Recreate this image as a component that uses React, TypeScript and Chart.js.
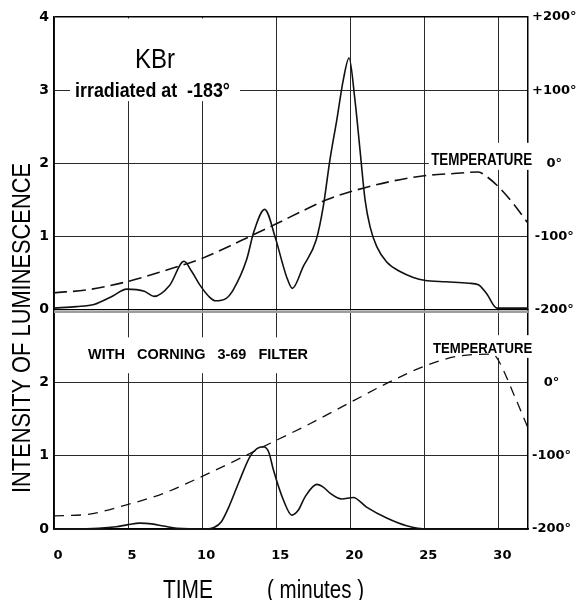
import React, { useEffect, useRef } from "react";
import { Chart, registerables } from "chart.js";

Chart.register(...registerables);

// ---- Time axis (minutes) ----
const xTicks = [0, 5, 10, 15, 20, 25, 30];
const xMax = 32;

// ---- Upper panel: KBr irradiated at -183° ----
const upperLumTime = [0, 1.5, 2.7, 4.0, 4.9, 6.1, 6.75, 7.8, 8.78, 9.3, 9.9, 10.5, 10.9, 11.6, 12.1, 13.0, 13.5, 14.22, 14.96, 15.4, 15.7, 16.09, 16.83, 17.7, 18.18, 18.63, 19.09, 19.53, 19.92, 20.32, 20.66, 21.0, 21.34, 21.79, 22.46, 23.36, 24.26, 25.0, 26.5, 28.0, 28.65, 29.2, 29.9, 32];
const upperLumValue = [0.02, 0.04, 0.07, 0.19, 0.28, 0.25, 0.18, 0.33, 0.66, 0.52, 0.32, 0.17, 0.12, 0.15, 0.27, 0.68, 1.07, 1.37, 0.97, 0.65, 0.45, 0.29, 0.59, 0.95, 1.41, 2.05, 2.59, 3.14, 3.44, 2.86, 2.18, 1.5, 1.13, 0.86, 0.65, 0.52, 0.44, 0.4, 0.38, 0.36, 0.34, 0.22, 0.02, 0.02];
const upperTempTime = [0, 2.25, 4.9, 7.43, 10.0, 12.6, 15.08, 16.9, 18.4, 20.0, 22.7, 25.0, 27.0, 28.65, 29.2, 30.0, 31.0, 32.0];
const upperTempValue = [-177, -173, -162, -147, -130, -106, -82, -64, -50, -39, -25, -17, -14, -12, -18, -32, -55, -82];

// ---- Lower panel: with Corning 3-69 filter ----
const lowerLumTime = [0, 3.0, 4.2, 5.0, 5.8, 6.6, 7.4, 8.3, 10.3, 10.8, 11.3, 11.8, 12.5, 13.23, 13.7, 14.13, 14.5, 14.81, 15.48, 16.05, 16.5, 16.95, 17.74, 18.2, 18.63, 19.42, 20.2, 21.1, 22.46, 23.8, 25.2, 32];
const lowerLumValue = [0, 0.01, 0.03, 0.06, 0.08, 0.07, 0.04, 0.01, 0, 0.02, 0.1, 0.3, 0.65, 0.99, 1.1, 1.125, 1.05, 0.81, 0.4, 0.19, 0.26, 0.44, 0.61, 0.57, 0.49, 0.41, 0.43, 0.3, 0.15, 0.045, 0, 0];
const lowerTempTime = [0, 2.25, 4.9, 7.43, 10.0, 12.6, 14.07, 15.08, 16.9, 20.0, 22.46, 25.05, 27.2, 29.4, 29.7, 30.1, 31.0, 32.0];
const lowerTempValue = [-182, -180, -167, -151, -128, -103, -88, -78, -60, -27, -1, 23, 36, 39, 38, 27, -14, -62];

// ---- Tick labels ----
const upperIntensityTicks = [0, 1, 2, 3, 4];
const lowerIntensityTicks = [0, 1, 2];
const upperTempTicks = [-200, -100, 0, 100, 200];
const lowerTempTicks = [-200, -100, 0];

// ---- In-plot text (data coordinates: minutes / intensity) ----
const panelTexts = [
  { panel: "top", text: "KBr", t0: 5.47, t1: 8.17, v: 3.3, font: "normal 28px 'Liberation Sans', sans-serif" },
  { panel: "top", text: "irradiated at  -183°", t0: 1.42, t1: 11.88, v: 2.91, font: "bold 20px 'Liberation Sans', sans-serif" },
  { panel: "top", text: "TEMPERATURE", t0: 25.46, t1: 32.28, v: 1.977, font: "bold 16px 'Liberation Sans', sans-serif" },
  { panel: "bottom", text: "WITH   CORNING   3-69   FILTER", t0: 2.3, t1: 17.15, v: 2.32, font: "bold 15px 'Liberation Sans', sans-serif" },
  { panel: "bottom", text: "TEMPERATURE", t0: 25.59, t1: 32.28, v: 2.4, font: "bold 14px 'Liberation Sans', sans-serif" },
];
const whiteBoxes = [
  { panel: "top", t0: 1.08, t1: 12.56, v0: 3.98, v1: 2.85 },
  { panel: "top", t0: 25.3, t1: 32.3, v0: 2.28, v1: 1.91 },
  { panel: "bottom", t0: 2.03, t1: 17.42, v0: 2.62, v1: 2.13 },
  { panel: "bottom", t0: 25.4, t1: 32.3, v0: 2.65, v1: 2.34 },
];

const yTitle = "INTENSITY OF LUMINESCENCE";
const xTitleA = "TIME";
const xTitleB = "( minutes )";

const fmtTemp = (v: number) => (v > 0 ? `+${v}°` : `${v}°`);
const tickFont = (size: number) => ({ family: "'DejaVu Sans', sans-serif", size, weight: "bold" as const });
const gridColor = "#2b2b2b";

function fitText(ctx: CanvasRenderingContext2D, text: string, left: number, baseline: number, font: string, width: number) {
  ctx.save();
  ctx.font = font;
  const w = ctx.measureText(text).width;
  ctx.translate(left, baseline);
  ctx.scale(width / w, 1);
  ctx.textAlign = "left";
  ctx.textBaseline = "alphabetic";
  ctx.fillText(text, 0, 0);
  ctx.restore();
}

const paperPlugin = {
  id: "paper",
  beforeDatasetsDraw(chart: any) {
    const { ctx, scales, chartArea } = chart;
    const x = scales.x;
    const yT = scales.yTop;
    const yB = scales.yBot;
    const b = yT.getPixelForValue(0);
    ctx.save();
    ctx.fillStyle = "#9c9c9c";
    ctx.fillRect(chartArea.left, b + 0.8, chartArea.right - chartArea.left, 2.6);
    ctx.fillStyle = "#fff";
    for (const box of whiteBoxes) {
      const sy = box.panel === "top" ? yT : yB;
      const x1 = x.getPixelForValue(box.t0);
      const x2 = x.getPixelForValue(box.t1);
      const y1 = sy.getPixelForValue(box.v0);
      const y2 = sy.getPixelForValue(box.v1);
      ctx.fillRect(x1, y1, x2 - x1, y2 - y1);
    }
    ctx.fillStyle = "#000";
    for (const t of panelTexts) {
      const sy = t.panel === "top" ? yT : yB;
      const l = x.getPixelForValue(t.t0);
      const r = x.getPixelForValue(t.t1);
      fitText(ctx, t.text, l, sy.getPixelForValue(t.v), t.font, r - l);
    }
    ctx.restore();
  },
  afterDraw(chart: any) {
    const { ctx, chartArea } = chart;
    ctx.save();
    ctx.fillStyle = "#000";
    // y axis title (rotated)
    ctx.save();
    ctx.translate(chartArea.left - 31, chartArea.top + 476);
    ctx.rotate(-Math.PI / 2);
    ctx.font = "normal 26px 'Liberation Sans', sans-serif";
    const w = ctx.measureText(yTitle).width;
    ctx.scale(330 / w, 1);
    ctx.textAlign = "left";
    ctx.textBaseline = "middle";
    ctx.fillText(yTitle, 0, 0);
    ctx.restore();
    // x axis title
    const base = chartArea.bottom + 69;
    fitText(ctx, xTitleA, chartArea.left + 109, base, "normal 25px 'Liberation Sans', sans-serif", 50);
    fitText(ctx, xTitleB, chartArea.left + 213, base, "normal 25px 'Liberation Sans', sans-serif", 97);
    ctx.restore();
  },
};

export default function App() {
  const ref = useRef<HTMLCanvasElement>(null);
  useEffect(() => {
    const canvas = ref.current;
    if (!canvas) return;
    const pts = (xs: number[], ys: number[]) => xs.map((x, i) => ({ x, y: ys[i] }));
    const solid = { borderColor: "#111", borderWidth: 1.6, pointRadius: 0, cubicInterpolationMode: "monotone" as const, fill: false };
    const chart = new Chart(canvas, {
      type: "line",
      data: {
        datasets: [
          { label: "Luminescence", data: pts(upperLumTime, upperLumValue), xAxisID: "x", yAxisID: "yTop", ...solid },
          { label: "Temperature", data: pts(upperTempTime, upperTempValue), xAxisID: "x", yAxisID: "rTop", ...solid, borderWidth: 1.6, borderDash: [13, 6] },
          { label: "Luminescence (Corning 3-69)", data: pts(lowerLumTime, lowerLumValue), xAxisID: "x", yAxisID: "yBot", ...solid },
          { label: "Temperature (Corning 3-69)", data: pts(lowerTempTime, lowerTempValue), xAxisID: "x", yAxisID: "rBot", ...solid, borderWidth: 1.3, borderDash: [10, 7] },
        ],
      },
      options: {
        responsive: false,
        animation: false,
        events: [],
        layout: { padding: { top: 17, left: 0, right: 0, bottom: 0 } },
        plugins: { legend: { display: false }, tooltip: { enabled: false } },
        scales: {
          x: {
            type: "linear",
            position: "bottom",
            min: 0,
            max: xMax,
            afterBuildTicks: (s: any) => { s.ticks = xTicks.map((value) => ({ value })); },
            afterFit: (s: any) => { s.height = 71; },
            grid: { color: gridColor, lineWidth: 1, drawTicks: false },
            border: { display: true, color: "#000", width: 1.5 },
            ticks: { color: "#000", font: tickFont(13), padding: 19, labelOffset: 4, maxRotation: 0, autoSkip: false },
          },
          yBot: {
            type: "linear",
            position: "left",
            stack: "left",
            stackWeight: 3,
            min: 0,
            max: 3,
            afterBuildTicks: (s: any) => { s.ticks = lowerIntensityTicks.map((value) => ({ value })); },
            afterFit: (s: any) => { s.width = 54; },
            grid: { color: gridColor, lineWidth: 1, drawTicks: false },
            border: { display: true, color: "#000", width: 1.5 },
            ticks: { color: "#000", font: tickFont(14), padding: 5 },
          },
          yTop: {
            type: "linear",
            position: "left",
            stack: "left",
            stackWeight: 4,
            min: 0,
            max: 4,
            afterBuildTicks: (s: any) => { s.ticks = upperIntensityTicks.map((value) => ({ value })); },
            afterFit: (s: any) => { s.width = 54; },
            grid: { color: (c: any) => (c.tick && (c.tick.value === 0 || c.tick.value === 4) ? "#000" : gridColor), lineWidth: (c: any) => (c.tick && c.tick.value === 4 ? 1.5 : 1), drawTicks: false },
            border: { display: true, color: "#000", width: 1.5 },
            ticks: { color: "#000", font: tickFont(14), padding: 5 },
          },
          rTop: {
            type: "linear",
            position: "right",
            stack: "right",
            stackWeight: 4,
            min: -200,
            max: 200,
            afterBuildTicks: (s: any) => { s.ticks = upperTempTicks.map((value) => ({ value })); },
            afterFit: (s: any) => { s.width = 53; },
            grid: { display: false, drawTicks: false },
            border: { display: true, color: "#000", width: 1.5 },
            ticks: { color: "#000", font: tickFont(13), padding: 4, crossAlign: "center", callback: (v: any) => fmtTemp(Number(v)) },
          },
          rBot: {
            type: "linear",
            position: "right",
            stack: "right",
            stackWeight: 3,
            min: -200,
            max: 100,
            afterBuildTicks: (s: any) => { s.ticks = lowerTempTicks.map((value) => ({ value })); },
            afterFit: (s: any) => { s.width = 53; },
            grid: { display: false, drawTicks: false },
            border: { display: true, color: "#000", width: 1.5 },
            ticks: { color: "#000", font: tickFont(13), padding: 4, crossAlign: "center", callback: (v: any) => fmtTemp(Number(v)) },
          },
        },
      } as any,
      plugins: [paperPlugin],
    });
    return () => chart.destroy();
  }, []);
  return (
    <div style={{ position: "fixed", left: 0, top: 0, width: 581, height: 600, background: "#fff" }}>
      <canvas ref={ref} width={581} height={600} style={{ display: "block" }} />
    </div>
  );
}
